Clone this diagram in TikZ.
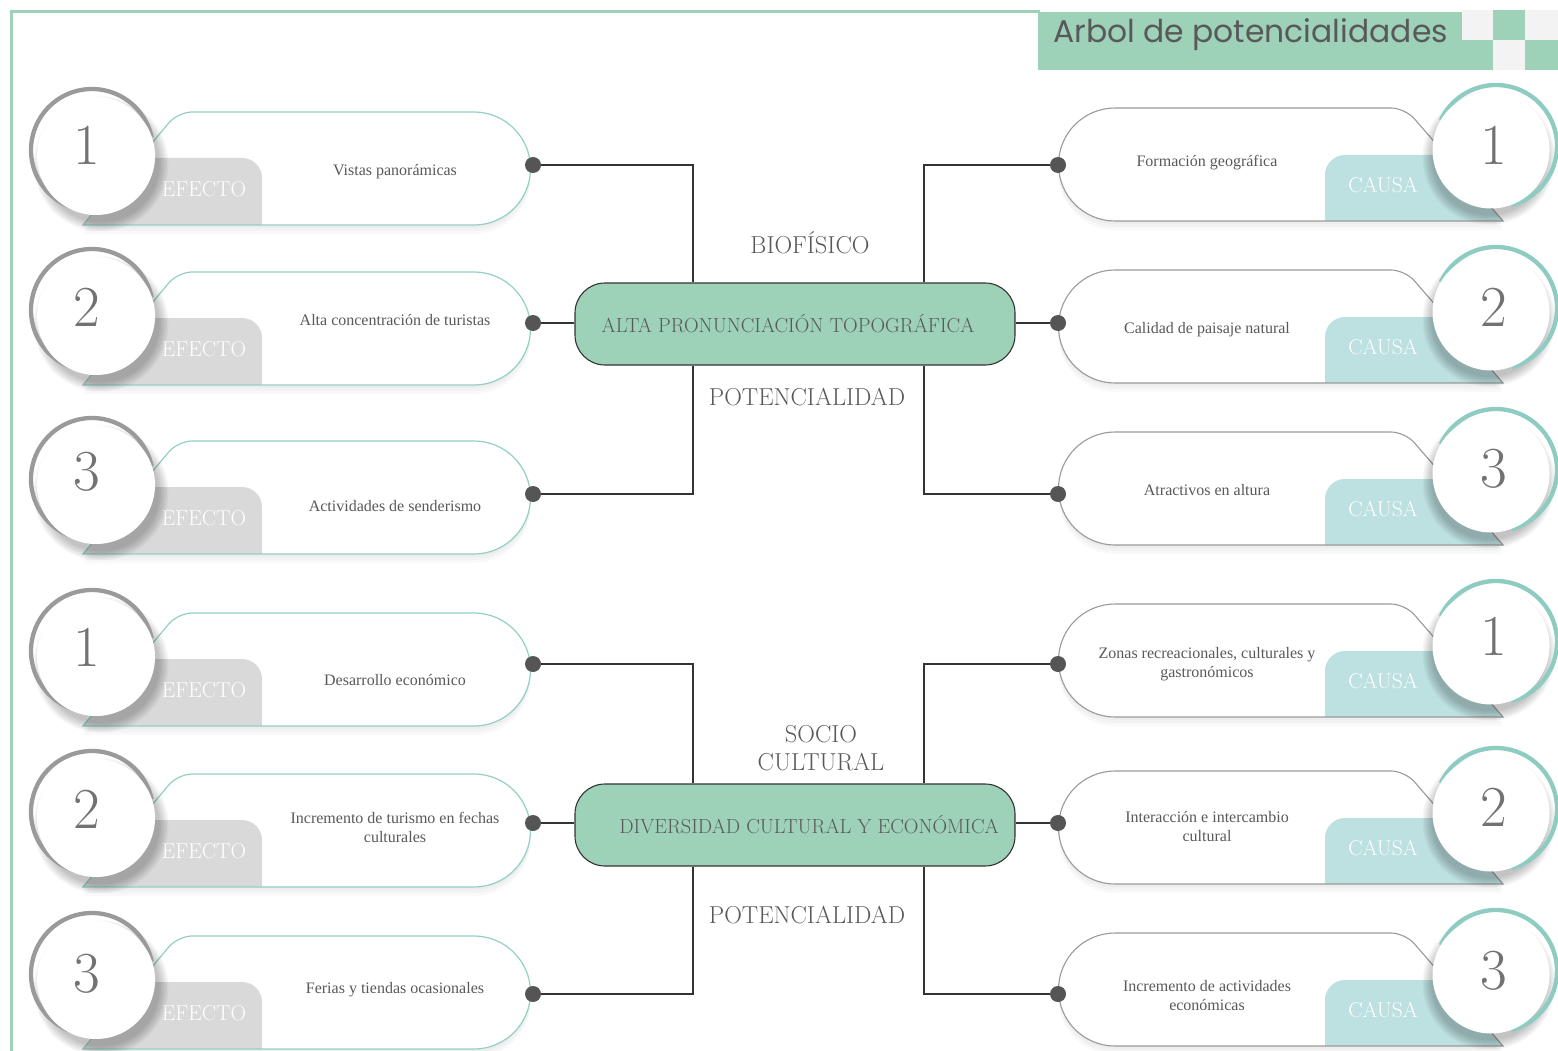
\documentclass[tikz,border=0pt]{standalone}
\usepackage{fontspec}
\newfontfamily\titlefont{Poppins}
\newfontfamily\capfont{Liberation Serif}
\definecolor{mgreen}{HTML}{9DD1B8}
\definecolor{tealline}{HTML}{92D0C6}
\definecolor{causac}{HTML}{BDE0E0}
\definecolor{efectoc}{HTML}{D9D9D9}
\definecolor{ringgray}{HTML}{9A9A9A}
\definecolor{ringteal}{HTML}{8ECCC2}
\definecolor{txtc}{HTML}{595959}
\definecolor{dotc}{HTML}{555555}
\definecolor{lightsq}{HTML}{F3F3F3}
\tikzset{
  shadefill/.style={fill=black, opacity=0.025},
  circshade/.style={fill=black, opacity=0.035},
  captext/.style={text=txtc, font=\capfont\fontsize{16}{19}\selectfont, align=center, inner sep=0pt},
  numtext/.style={text=txtc!85, font=\fontsize{58}{58}\selectfont, inner sep=0pt},
  tabtext/.style={text=white, font=\fontsize{21.5}{21.5}\selectfont, inner sep=0pt},
  mainbox/.style={draw=black!80, line width=1.1pt, fill=mgreen, rounded corners=30pt, minimum width=440pt, minimum height=82pt, text=txtc, font=\fontsize{20.3}{20.3}\selectfont},
  lbl/.style={text=txtc, font=\fontsize{24.5}{28}\selectfont, align=center, inner sep=0pt},
  conn/.style={draw=black!80, line width=1.2pt},
  dotn/.style={circle, fill=dotc, minimum size=16pt, inner sep=0pt},
  whitecirc/.style={circle, fill=white, inner sep=0pt},
}
\newcommand\leftcap{(83,113) [rounded corners=14pt] -- (178,0) [sharp corners] -- (474,0) arc[start angle=-90,end angle=90,radius=56.5] -- cycle}
\newcommand\rightcap{(1503,113) [rounded corners=14pt] -- (1405,0) [sharp corners] -- (1115,0) arc[start angle=-90,end angle=-270,radius=56.5] -- cycle}
\newcommand\leftunit[6]{%
  \begin{scope}[shift={(0,#1)}]
    \foreach \s in {3,6,9}{\fill[shadefill, shift={(0,\s)}] \leftcap;}
    \fill[white] \leftcap;
    \fill[efectoc] (84,113) -- (139.3,46) -- (242,46) arc[start angle=-90,end angle=0,radius=20] -- (262,113) -- cycle;
    \draw[tealline, line width=1.2pt] \leftcap;
    \node[tabtext] (ef#6) at (204,77) {EFECTO};
    \node[captext] (tx#6) at (395,#4) {#3};
    \foreach \k in {1.5,3,...,10.5}{\fill[circshade] (101,52) circle ({57+\k});}
    \draw[ringgray, line width=4.3pt] (92,38) ++(-12:61) arc[start angle=-12,end angle=-255,radius=61];
    \node[whitecirc, minimum size=118pt] (ci#6) at (96,44) {};
    \node[numtext] (nu#6) at (87,#5) {#2};
  \end{scope}}
\newcommand\rightunit[6]{%
  \begin{scope}[shift={(0,#1)}]
    \foreach \s in {3,6,9}{\fill[shadefill, shift={(0,\s)}] \rightcap;}
    \fill[white] \rightcap;
    \fill[causac] (1325,113) -- (1325,67) arc[start angle=180,end angle=270,radius=20] -- (1445.8,47) -- (1503,113) -- cycle;
    \draw[ringgray, line width=1.1pt] \rightcap;
    \node[tabtext] (ca#6) at (1383,77) {CAUSA};
    \node[captext] (tx#6) at (1207,#4) {#3};
    \foreach \k in {1.5,3,...,10.5}{\fill[circshade] (1489,50) circle ({56+\k});}
    \draw[ringteal, line width=4.3pt] (1496,38) ++(75:61) arc[start angle=75,end angle=-155,radius=61];
    \node[whitecirc, minimum size=117pt] (ci#6) at (1491,42) {};
    \node[numtext] (nu#6) at (1494,#5) {#2};
  \end{scope}}
\begin{document}
\begin{tikzpicture}[x=1pt,y=-1pt]
\useasboundingbox (0,0) rectangle (1558,1051);
\fill[white] (0,0) rectangle (1558,1051);
% frame
\draw[mgreen, line width=3pt] (11,1051) -- (11,12) -- (1040,12);
% title
\fill[mgreen] (1038,12) rectangle (1493,70);
\fill[lightsq] (1462,10) rectangle (1493,40);
\fill[mgreen] (1493,10) rectangle (1525,40);
\fill[lightsq] (1525,10) rectangle (1558,40);
\fill[lightsq] (1493,40) rectangle (1525,70);
\fill[mgreen] (1525,40) rectangle (1558,70);
\node[text=txtc, font=\titlefont\fontsize{31.4}{31.4}\selectfont, anchor=west, inner sep=0pt] (title) at (1053,35) {Arbol de potencialidades};

% left units
\leftunit{112}{1}{Vistas panorámicas}{60}{33}{L1}
\leftunit{272}{2}{Alta concentración de turistas}{48}{35}{L2}
\leftunit{441}{3}{Actividades de senderismo}{65}{31}{L3}
\leftunit{613}{1}{Desarrollo económico}{67}{34}{L4}
\leftunit{774}{2}{Incremento de turismo en fechas\\culturales}{53}{35}{L5}
\leftunit{936}{3}{Ferias y tiendas ocasionales}{54}{38}{L6}
% right units
\rightunit{108}{1}{Formación geográfica}{55}{37}{R1}
\rightunit{270}{2}{Calidad de paisaje natural}{60}{37}{R2}
\rightunit{432}{3}{Atractivos en altura}{58}{37}{R3}
\rightunit{604}{1}{Zonas recreacionales, culturales y\\gastronómicos}{60}{32}{R4}
\rightunit{771}{2}{Interacción e intercambio\\cultural}{56}{36}{R5}
\rightunit{933}{3}{Incremento de actividades\\económicas}{63}{38}{R6}

% central boxes
\node[mainbox] (b1) at (795,324) {\hspace*{-14pt}ALTA PRONUNCIACIÓN TOPOGRÁFICA};
\node[mainbox] (b2) at (795,825) {\hspace*{28pt}DIVERSIDAD CULTURAL Y ECONÓMICA};

% dots
\coordinate (pL1) at (533,165); \coordinate (pL2) at (533,323); \coordinate (pL3) at (533,494);
\coordinate (pL4) at (533,664); \coordinate (pL5) at (533,823); \coordinate (pL6) at (533,994);
\coordinate (pR1) at (1058,165); \coordinate (pR2) at (1058,323); \coordinate (pR3) at (1058,494);
\coordinate (pR4) at (1058,664); \coordinate (pR5) at (1058,823); \coordinate (pR6) at (1058,994);

% connectors
\draw[conn] (pL1) -| ([xshift=-102pt]b1.north);
\draw[conn] (pL2) -- (pL2 -| b1.west);
\draw[conn] (pL3) -| ([xshift=-102pt]b1.south);
\draw[conn] (pR1) -| ([xshift=129pt]b1.north);
\draw[conn] (pR2) -- (pR2 -| b1.east);
\draw[conn] (pR3) -| ([xshift=129pt]b1.south);
\draw[conn] (pL4) -| ([xshift=-102pt]b2.north);
\draw[conn] (pL5) -- (pL5 -| b2.west);
\draw[conn] (pL6) -| ([xshift=-102pt]b2.south);
\draw[conn] (pR4) -| ([xshift=129pt]b2.north);
\draw[conn] (pR5) -- (pR5 -| b2.east);
\draw[conn] (pR6) -| ([xshift=129pt]b2.south);

\foreach \n in {L1,L2,L3,L4,L5,L6,R1,R2,R3,R4,R5,R6}{\node[dotn] (d\n) at (p\n) {};}

% labels
\node[lbl] (lab1) at (810,243) {BIOFÍSICO};
\node[lbl] (lab2) at (807,397) {POTENCIALIDAD};
\node[lbl] (lab3) at (821,748) {SOCIO\\CULTURAL};
\node[lbl] (lab4) at (807,915) {POTENCIALIDAD};
\end{tikzpicture}
\end{document}
